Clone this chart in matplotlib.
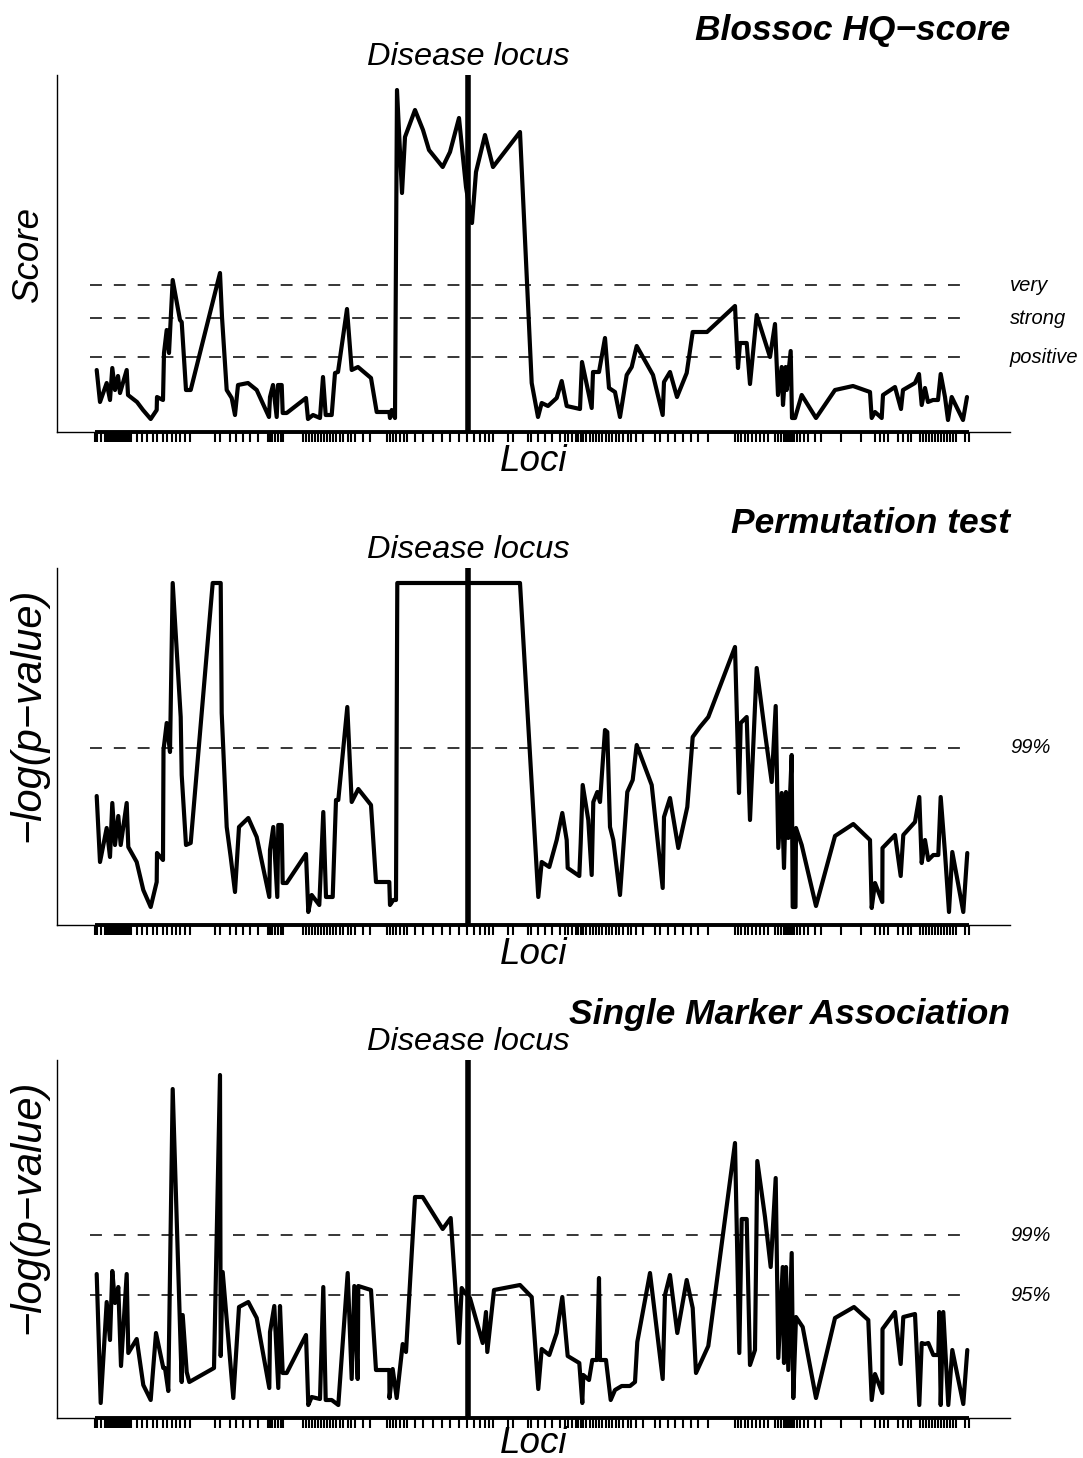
import matplotlib
matplotlib.use("Agg")
import matplotlib.pyplot as plt
from matplotlib import transforms

plt.rcParams["font.family"] = ["Liberation Sans", "DejaVu Sans"]

# marker map (kb from the start of the region)
marker_pos = [
    38, 40, 44, 48, 50, 52, 54, 56, 58, 60, 62, 64, 66, 68, 70, 72, 74, 80, 85, 90,
    96, 100, 106, 110, 115, 119, 123, 128, 133, 158, 163, 173, 179, 186, 193, 201,
    211, 213, 215, 218, 221, 224, 226, 246, 249, 252, 255, 258, 261, 264, 267, 270,
    273, 276, 279, 283, 286, 291, 294, 298, 306, 313, 330, 333, 336, 339, 343, 347,
    350, 358, 366, 376, 385, 393, 402, 410, 417, 423, 428, 432, 436, 451, 456, 471,
    474, 481, 488, 495, 503, 508, 511, 515, 519, 521, 524, 526, 529, 533, 536, 539,
    542, 545, 549, 552, 555, 559, 562, 566, 571, 574, 579, 586, 598, 603, 611, 618,
    626, 634, 641, 651, 678, 681, 684, 688, 691, 695, 699, 703, 707, 711, 718, 721,
    724, 727, 729, 731, 733, 735, 737, 740, 743, 747, 751, 758, 764, 784, 804, 818,
    823, 827, 831, 841, 846, 851, 854, 863, 866, 869, 872, 875, 878, 881, 884, 887,
    890, 893, 896, 899, 908, 912,
]
disease_pos = 411

# Blossoc HQ-score
hq_pos = [
    39.7, 43, 49.7, 53, 55.3, 58, 61, 63, 69.7, 71, 80, 86, 93.7, 99.7, 100, 106,
    107, 109.7, 112, 115.7, 123, 124.7, 129, 133.7, 163, 165, 169.7, 174.7, 178, 181,
    191, 199.7, 212, 213, 216, 219.7, 221, 224.7, 225.7, 229.7, 249, 251, 256, 263,
    266, 268.7, 274.7, 278, 281, 290, 294.7, 301, 314, 319.7, 332.3, 333, 334.7, 338,
    340, 345, 348, 358, 366, 372, 385.7, 393, 402, 409, 415, 419, 428, 436, 463,
    474.7, 481, 484.7, 491, 499.7, 504.7, 509.7, 523, 525, 534.7, 536, 542, 548, 552,
    558, 563, 569.7, 574.7, 579.7, 596, 605.7, 607, 613, 620, 629.7, 635.7, 650, 678,
    681, 683, 689.7, 693, 699.7, 713, 718, 721, 724.7, 726, 728.7, 729.7, 733.7, 735,
    738, 744.7, 759, 778, 796, 813, 814.7, 818, 824.7, 826, 838, 844, 846, 858, 862,
    864.7, 868, 871, 876, 881, 883.7, 888, 891, 894.7, 906, 910,
]
hq_score = [
    6.2, 3.0, 4.9, 3.2, 6.4, 4.2, 5.6, 3.9, 6.2, 3.7, 3.0, 2.2, 1.3, 2.2, 3.5, 3.2,
    7.9, 10.2, 7.9, 15.2, 11.2, 11.0, 4.2, 4.2, 15.9, 11.5, 4.2, 3.4, 1.7, 4.7,
    4.9, 4.2, 1.5, 3.5, 4.7, 1.5, 4.7, 4.7, 1.9, 1.9, 3.4, 1.3, 1.7, 1.4,
    5.5, 1.7, 1.7, 5.9, 6.0, 12.3, 6.2, 6.5, 5.4, 2.0, 2.0, 1.4, 2.2, 1.4,
    34.2, 23.9, 29.5, 32.2, 30.2, 28.2, 26.5, 28.0, 31.4, 24.5, 20.9, 26.0, 29.7, 26.5, 30.0,
    4.9, 1.5, 2.9, 2.6, 3.4, 5.1, 2.6, 2.3, 7.0, 2.4, 6.0, 6.0, 9.4, 4.4,
    4.0, 1.5, 5.7, 6.5, 8.6, 5.7, 1.7, 5.0, 6.0, 3.5, 5.9, 10.0, 10.0, 12.6,
    6.4, 8.9, 8.9, 4.8, 11.7, 7.5, 10.8, 3.7, 6.5, 2.7, 6.5, 4.2, 8.1, 1.4,
    1.4, 3.7, 1.4, 4.2, 4.6, 4.0, 1.4, 2.0, 1.4, 3.7, 4.5, 2.3, 4.2, 4.9, 5.8,
    2.7, 4.4, 3.0, 3.2, 3.2, 5.8, 3.5, 1.2, 3.5, 1.2, 3.5,
]
hq_levels = [7.5, 11.4, 14.7]
hq_level_names = ["positive", "strong", "very"]

# Permutation test, -log(p-value)
perm_pos = [
    39.7, 43, 49.7, 53, 55.3, 58, 61.3, 63.7, 69.7, 71.3, 79.7, 86.3, 93.7, 99.7, 100,
    106, 106.5, 109.7, 113, 115.7, 123.7, 124.7, 129, 133.7, 155.7, 163.7, 164.7, 169.7,
    173.7, 178, 182, 191.3, 199.7, 212.3, 213, 216.3, 220.3, 221.3, 224.7, 225.7, 229.7,
    249, 251.3, 254.7, 262.3, 266.3, 269, 275.7, 279, 281.3, 290.3, 294.7, 301.3, 314,
    319, 332.3, 333, 336.3, 339, 340.3, 463, 476, 481.3, 484.7, 492.3, 499.7, 505.3,
    509.7, 510.7, 522.3, 523.7, 525.7, 531.3, 534.7, 536.3, 540.3, 543, 548, 550.3, 553,
    556.3, 563, 570.3, 575.7, 579.7, 594.7, 605.7, 607, 613, 621.3, 630.3, 635.7, 643,
    651.3, 678, 682, 683.7, 689.7, 693, 699.7, 708, 714.7, 718.7, 721.3, 724.7, 727, 729,
    731.3, 734.7, 735.7, 738.5, 739, 744.7, 759, 778, 796.3, 813, 814.7, 818, 825.3,
    825.5, 838, 843.7, 846.3, 858, 862.3, 864.7, 868, 871.3, 876.3, 881.3, 883.7, 888,
    892, 895.3, 906.3, 910.3,
]
perm_val = [
    1.29, 0.63, 0.97, 0.68, 1.22, 0.80, 1.09, 0.80, 1.22, 0.78, 0.63, 0.35, 0.18, 0.43, 0.72,
    0.65, 1.75, 2.02, 1.73, 3.42, 2.08, 1.50, 0.80, 0.82, 3.42, 3.42, 2.12, 0.98,
    0.68, 0.33, 0.98, 1.07, 0.88, 0.28, 0.75, 0.98, 0.28, 1.00, 1.00, 0.42, 0.42,
    0.71, 0.13, 0.30, 0.20, 1.13, 0.28, 0.28, 1.25, 1.25, 2.18, 1.23, 1.36, 1.20,
    0.43, 0.43, 0.20, 0.25, 0.25, 3.42, 3.42, 1.18, 0.28, 0.63, 0.58, 0.85, 1.12,
    0.85, 0.57, 0.49, 0.82, 1.40, 1.05, 0.50, 1.23, 1.33, 1.23, 1.95, 1.93, 0.98,
    0.85, 0.30, 1.33, 1.45, 1.80, 1.40, 0.37, 1.08, 1.27, 0.77, 1.18, 1.88, 1.98,
    2.08, 2.78, 1.32, 2.02, 2.08, 1.05, 2.57, 1.92, 1.43, 2.19, 0.77, 1.32, 0.57, 1.33,
    0.87, 1.70, 0.18, 0.18, 0.97, 0.80, 0.19, 0.89, 1.01, 0.85, 0.17, 0.42, 0.23,
    0.77, 0.90, 0.49, 0.90, 1.03, 1.28, 0.62, 0.85, 0.65, 0.70, 0.70, 1.28, 0.72,
    0.13, 0.73, 0.13, 0.72,
]
perm_levels = [1.77]
perm_level_names = ["99%"]

# Single marker association, -log(p-value)
sma_pos = [
    39.7, 43.7, 49.7, 53, 55.3, 58, 61.3, 64, 69.7, 71.3, 79.7, 86.3, 93.7, 99, 106.3,
    108, 111.3, 115.7, 124.7, 125.7, 129.7, 132.3, 157, 163, 163.7, 165.7, 176.3, 182,
    191.3, 199.7, 212.3, 213, 217.3, 221.3, 223, 225.7, 229.7, 249, 251.3, 254.7, 263,
    266.3, 268.7, 274.7, 281.3, 290.7, 294.7, 297.3, 300.7, 301.3, 314, 319, 332.3,
    332.5, 335.7, 339.7, 345.7, 349, 358, 365.7, 385.7, 393.7, 402, 404.7, 408, 413,
    425.7, 429, 430.3, 437, 463, 474.7, 481.3, 484.7, 492.3, 499.7, 505.3, 510.7, 522.3,
    525.3, 526.3, 532, 535.3, 540, 542, 543, 549, 553.7, 558, 564.7, 573, 578, 580.3,
    593, 605.7, 608, 613, 620.3, 629.7, 635.7, 639, 651.3, 678, 682.3, 684.7, 689.7,
    693, 698, 700.3, 708, 713.7, 718.7, 721.3, 725.7, 727, 729, 731.3, 734.7, 736.3,
    739, 745.7, 759, 778, 797, 811.3, 814.7, 818, 825.3, 825.5, 838, 843.7, 846.3, 858,
    862.3, 864.7, 868, 871.3, 876.3, 881.3, 882.3, 883.7, 886.3, 891.3, 895.3, 906.3,
    910.3,
]
sma_val = [
    1.44, 0.15, 1.16, 0.78, 1.47, 1.15, 1.31, 0.52, 1.44, 0.65, 0.79, 0.33, 0.18, 0.85, 0.50,
    0.50, 0.27, 3.29, 0.36, 1.03, 0.46, 0.36, 0.50, 3.43, 0.62, 1.46, 0.20, 1.11,
    1.16, 1.00, 0.30, 0.86, 1.12, 0.30, 1.12, 0.45, 0.45, 0.83, 0.13, 0.21, 0.19,
    1.31, 0.18, 0.18, 0.13, 1.45, 0.39, 1.32, 0.39, 1.32, 1.28, 0.48, 0.48,
    0.20, 0.49, 0.20, 0.74, 0.66, 2.21, 2.21, 1.89, 2.00, 0.75, 1.30, 1.25, 1.20,
    0.75, 1.06, 0.66, 1.28, 1.33, 1.21, 0.29, 0.69, 0.63, 0.85, 1.21, 0.62, 0.55,
    0.15, 0.43, 0.38, 0.58, 0.58, 1.40, 0.58, 0.58, 0.18, 0.28, 0.32, 0.32, 0.36, 0.76,
    1.45, 0.39, 1.23, 1.43, 0.85, 1.38, 1.10, 0.45, 0.72, 2.75, 0.65, 1.99, 1.99,
    0.53, 0.68, 2.57, 2.01, 1.51, 2.40, 0.60, 1.51, 0.55, 1.51, 0.48, 1.65, 0.20,
    1.01, 0.91, 0.20, 1.00, 1.11, 0.98, 0.18, 0.44, 0.25, 0.89, 1.06, 0.54, 1.01, 1.04,
    0.13, 0.75, 0.74, 0.75, 0.63, 0.63, 1.06, 0.13, 1.06, 0.13, 0.68, 0.14,
    0.68,
]
sma_levels = [1.83, 1.23]
sma_level_names = ["99%", "95%"]


def draw_panel(ax, pos, vals, ytop, levels, level_names, title, ylabel,
               ylabel_y, ylabel_size, loci_y):
    ax.plot(pos, vals, color="black", lw=3.0,
            solid_joinstyle="round", solid_capstyle="round")
    ax.axvline(disease_pos, color="black", lw=4.0)
    for lev, name in zip(levels, level_names):
        ax.hlines(lev, marker_pos[0] - 5, marker_pos[-1] - 5, color="black",
                  lw=1.1, linestyles=(0, (7.8, 7.8)))
        ax.text(1.0, lev, name, transform=ax.get_yaxis_transform(),
                ha="left", va="center", style="italic", fontsize=14.5)

    ax.set_xlim(0, 953)
    ax.set_ylim(0, ytop)
    for side in ("top", "right"):
        ax.spines[side].set_visible(False)
    for side in ("left", "bottom"):
        ax.spines[side].set_linewidth(1.0)
    ax.set_yticks([])

    # rug of marker positions below the axis
    ax.set_xticks(marker_pos)
    ax.tick_params(axis="x", direction="out", length=7, width=1.5,
                   labelbottom=False)
    ax.plot([marker_pos[0], marker_pos[-1]], [0, 0], color="black", lw=2.8,
            solid_capstyle="butt", clip_on=False)

    ax.text(1.0, 1.126, title, transform=ax.transAxes, ha="right", va="center",
            fontsize=25.5, fontweight="bold", style="italic")
    trans = transforms.blended_transform_factory(ax.transData, ax.transAxes)
    ax.text(disease_pos, 1.05, "Disease locus", transform=trans, ha="center",
            va="center", fontsize=23.4, style="italic")
    ax.text(0.5, loci_y, "Loci", transform=ax.transAxes, ha="center",
            va="center", fontsize=26.5, style="italic")
    ax.text(-0.030, ylabel_y, ylabel, transform=ax.transAxes, ha="center",
            va="center", rotation=90, fontsize=ylabel_size, style="italic")


fig = plt.figure(figsize=(10.83, 14.58), dpi=100)
ax1 = fig.add_axes([0.05263, 0.70370, 0.87996, 0.24486])
ax2 = fig.add_axes([0.05263, 0.36557, 0.87996, 0.24486])
ax3 = fig.add_axes([0.05263, 0.02743, 0.87996, 0.24554])

draw_panel(ax1, hq_pos, hq_score, 35.7, hq_levels, hq_level_names,
           "Blossoc HQ\u2212score", "Score", 0.5, 26.5, -0.084)
draw_panel(ax2, perm_pos, perm_val, 3.57, perm_levels, perm_level_names,
           "Permutation test", "\u2212log(p\u2212value)", 0.59, 30, -0.084)
draw_panel(ax3, sma_pos, sma_val, 3.58, sma_levels, sma_level_names,
           "Single Marker Association", "\u2212log(p\u2212value)", 0.59, 30,
           -0.072)

fig.savefig("out.png", dpi=100)
